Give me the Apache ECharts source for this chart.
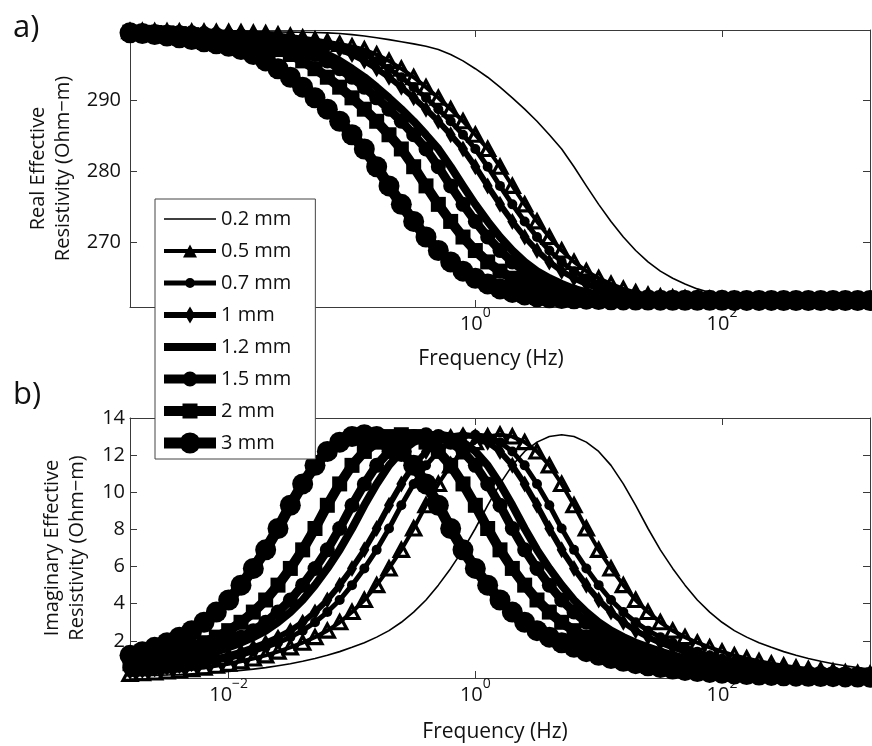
<!DOCTYPE html>
<html><head><meta charset="utf-8">
<script src="https://cdn.jsdelivr.net/npm/echarts@6/dist/echarts.min.js"></script>
<style>html,body{margin:0;padding:0;background:#fff}#c{width:872px;height:746px}</style>
</head><body><div id="c"></div>
<script>
// x values: log10 of frequency (Hz)
const logFreq = [-2.8,-2.7,-2.6,-2.5,-2.4,-2.3,-2.2,-2.1,-2.0,-1.9,-1.8,-1.7,-1.6,-1.5,-1.4,-1.3,-1.2,-1.1,-1.0,-0.9,
-0.8,-0.7,-0.6,-0.5,-0.4,-0.3,-0.2,-0.1,0.0,0.1,0.2,0.3,0.4,0.5,0.6,0.7,0.8,0.9,1.0,1.1,
1.2,1.3,1.4,1.5,1.6,1.7,1.8,1.9,2.0,2.1,2.2,2.3,2.4,2.5,2.6,2.7,2.8,2.9,3.0,3.1,3.2];

const sizes = ['0.2 mm','0.5 mm','0.7 mm','1 mm','1.2 mm','1.5 mm','2 mm','3 mm'];

const xTicks = [-2, 0, 2];
const realTicks = [270, 280, 290];
const imagTicks = [2, 4, 6, 8, 10, 12, 14];

// Real effective resistivity (Ohm-m)
const real02 = [299.88,299.87,299.86,299.85,299.83,299.81,299.79,299.77,299.75,299.73,
299.71,299.69,299.67,299.65,299.63,299.60,299.55,299.45,299.30,299.10,
298.85,298.60,298.30,298.00,297.65,297.20,296.50,295.60,294.50,293.30,
291.90,290.40,288.80,287.10,285.20,283.20,280.70,278.00,275.40,273.00,
270.80,268.90,267.30,266.00,265.00,264.20,263.50,263.00,262.65,262.40,
262.25,262.15,262.10,262.05,262.00,261.97,261.95,261.93,261.92,261.91,261.90];
const real05 = [299.79,299.77,299.75,299.73,
299.71,299.69,299.67,299.65,299.63,299.60,299.55,299.45,299.30,299.10,
298.85,298.60,298.30,298.00,297.65,297.20,296.50,295.60,294.50,293.30,
291.90,290.40,288.80,287.10,285.20,283.20,280.70,278.00,275.40,273.00,
270.80,268.90,267.30,266.00,265.00,264.20,263.50,263.00,262.65,262.40,
262.25,262.15,262.10,262.05,262.00,261.97,261.95,261.93,261.92,261.91,
261.90,261.90,261.89,261.89,261.89,261.88,261.88];
const real07 = [299.77,299.75,299.73,
299.71,299.69,299.67,299.65,299.63,299.60,299.55,299.45,299.30,299.10,
298.85,298.60,298.30,298.00,297.65,297.20,296.50,295.60,294.50,293.30,
291.90,290.40,288.80,287.10,285.20,283.20,280.70,278.00,275.40,273.00,
270.80,268.90,267.30,266.00,265.00,264.20,263.50,263.00,262.65,262.40,
262.25,262.15,262.10,262.05,262.00,261.97,261.95,261.93,261.92,261.91,
261.90,261.90,261.89,261.89,261.89,261.88,261.88,261.88];
const real10 = [299.75,299.73,
299.71,299.69,299.67,299.65,299.63,299.60,299.55,299.45,299.30,299.10,
298.85,298.60,298.30,298.00,297.65,297.20,296.50,295.60,294.50,293.30,
291.90,290.40,288.80,287.10,285.20,283.20,280.70,278.00,275.40,273.00,
270.80,268.90,267.30,266.00,265.00,264.20,263.50,263.00,262.65,262.40,
262.25,262.15,262.10,262.05,262.00,261.97,261.95,261.93,261.92,261.91,
261.90,261.90,261.89,261.89,261.89,261.88,261.88,261.88,261.88];
const real12 = [
299.71,299.69,299.67,299.65,299.63,299.60,299.55,299.45,299.30,299.10,
298.85,298.60,298.30,298.00,297.65,297.20,296.50,295.60,294.50,293.30,
291.90,290.40,288.80,287.10,285.20,283.20,280.70,278.00,275.40,273.00,
270.80,268.90,267.30,266.00,265.00,264.20,263.50,263.00,262.65,262.40,
262.25,262.15,262.10,262.05,262.00,261.97,261.95,261.93,261.92,261.91,
261.90,261.90,261.89,261.89,261.89,261.88,261.88,261.88,261.88,261.87,261.87];
const real15 = [
299.69,299.67,299.65,299.63,299.60,299.55,299.45,299.30,299.10,
298.85,298.60,298.30,298.00,297.65,297.20,296.50,295.60,294.50,293.30,
291.90,290.40,288.80,287.10,285.20,283.20,280.70,278.00,275.40,273.00,
270.80,268.90,267.30,266.00,265.00,264.20,263.50,263.00,262.65,262.40,
262.25,262.15,262.10,262.05,262.00,261.97,261.95,261.93,261.92,261.91,
261.90,261.90,261.89,261.89,261.89,261.88,261.88,261.88,261.88,261.87,261.87,261.87];
const real20 = [
299.65,299.63,299.60,299.55,299.45,299.30,299.10,
298.85,298.60,298.30,298.00,297.65,297.20,296.50,295.60,294.50,293.30,
291.90,290.40,288.80,287.10,285.20,283.20,280.70,278.00,275.40,273.00,
270.80,268.90,267.30,266.00,265.00,264.20,263.50,263.00,262.65,262.40,
262.25,262.15,262.10,262.05,262.00,261.97,261.95,261.93,261.92,261.91,
261.90,261.90,261.89,261.89,261.89,261.88,261.88,261.88,261.88,261.87,261.87,261.87,261.87,261.86];
const real30 = [
299.55,299.45,299.30,299.10,
298.85,298.60,298.30,298.00,297.65,297.20,296.50,295.60,294.50,293.30,
291.90,290.40,288.80,287.10,285.20,283.20,280.70,278.00,275.40,273.00,
270.80,268.90,267.30,266.00,265.00,264.20,263.50,263.00,262.65,262.40,
262.25,262.15,262.10,262.05,262.00,261.97,261.95,261.93,261.92,261.91,
261.90,261.90,261.89,261.89,261.89,261.88,261.88,261.88,261.88,261.87,261.87,261.87,261.87,261.86,261.86,261.86,261.86];

// Imaginary effective resistivity (Ohm-m)
const imag02 = [0.10,0.12,0.14,0.16,0.19,0.22,0.26,0.30,0.35,0.41,
0.48,0.56,0.66,0.77,0.90,1.05,1.22,1.42,1.65,1.90,
2.20,2.55,3.00,3.55,4.20,5.00,5.90,6.90,8.05,9.30,
10.45,11.45,12.20,12.70,13.00,13.10,
13.00,12.70,12.20,11.45,10.45,9.30,8.05,6.90,5.90,5.00,
4.20,3.55,3.00,2.55,2.20,1.90,1.65,1.42,1.22,1.05,
0.90,0.77,0.66,0.56,0.48];
const imag05 = [0.22,0.26,0.30,0.35,0.41,0.48,0.56,0.66,0.77,0.90,
1.05,1.22,1.42,1.65,1.90,2.20,2.55,3.00,3.55,4.20,
5.00,5.90,6.90,8.05,9.30,10.45,11.45,12.20,12.70,13.00,13.10,
13.00,12.70,12.20,11.45,10.45,9.30,8.05,6.90,5.90,5.00,
4.20,3.55,3.00,2.55,2.20,1.90,1.65,1.42,1.22,1.05,
0.90,0.77,0.66,0.56,0.48,0.41,0.35,0.30,0.26,0.22];
const imag07 = [0.30,0.35,0.41,0.48,0.56,0.66,0.77,0.90,1.05,
1.22,1.42,1.65,1.90,2.20,2.55,3.00,3.55,4.20,5.00,
5.90,6.90,8.05,9.30,10.45,11.45,12.20,12.70,13.00,13.10,
13.00,12.70,12.20,11.45,10.45,9.30,8.05,6.90,5.90,5.00,
4.20,3.55,3.00,2.55,2.20,1.90,1.65,1.42,1.22,1.05,
0.90,0.77,0.66,0.56,0.48,0.41,0.35,0.30,0.26,0.22,
0.19,0.16];
const imag10 = [0.35,0.41,0.48,0.56,0.66,0.77,0.90,1.05,
1.22,1.42,1.65,1.90,2.20,2.55,3.00,3.55,4.20,5.00,
5.90,6.90,8.05,9.30,10.45,11.45,12.20,12.70,13.00,13.10,
13.00,12.70,12.20,11.45,10.45,9.30,8.05,6.90,5.90,5.00,
4.20,3.55,3.00,2.55,2.20,1.90,1.65,1.42,1.22,1.05,
0.90,0.77,0.66,0.56,0.48,0.41,0.35,0.30,0.26,0.22,
0.19,0.16,0.14];
const imag12 = [0.48,0.56,0.66,0.77,0.90,1.05,
1.22,1.42,1.65,1.90,2.20,2.55,3.00,3.55,4.20,5.00,
5.90,6.90,8.05,9.30,10.45,11.45,12.20,12.70,13.00,13.10,
13.00,12.70,12.20,11.45,10.45,9.30,8.05,6.90,5.90,5.00,
4.20,3.55,3.00,2.55,2.20,1.90,1.65,1.42,1.22,1.05,
0.90,0.77,0.66,0.56,0.48,0.41,0.35,0.30,0.26,0.22,
0.19,0.16,0.14,0.12,0.10];
const imag15 = [0.56,0.66,0.77,0.90,1.05,
1.22,1.42,1.65,1.90,2.20,2.55,3.00,3.55,4.20,5.00,
5.90,6.90,8.05,9.30,10.45,11.45,12.20,12.70,13.00,13.10,
13.00,12.70,12.20,11.45,10.45,9.30,8.05,6.90,5.90,5.00,
4.20,3.55,3.00,2.55,2.20,1.90,1.65,1.42,1.22,1.05,
0.90,0.77,0.66,0.56,0.48,0.41,0.35,0.30,0.26,0.22,
0.19,0.16,0.14,0.12,0.10,0.09];
const imag20 = [0.77,0.90,1.05,
1.22,1.42,1.65,1.90,2.20,2.55,3.00,3.55,4.20,5.00,
5.90,6.90,8.05,9.30,10.45,11.45,12.20,12.70,13.00,13.10,
13.00,12.70,12.20,11.45,10.45,9.30,8.05,6.90,5.90,5.00,
4.20,3.55,3.00,2.55,2.20,1.90,1.65,1.42,1.22,1.05,
0.90,0.77,0.66,0.56,0.48,0.41,0.35,0.30,0.26,0.22,
0.19,0.16,0.14,0.12,0.10,0.09,0.08,0.07];
const imag30 = [
1.22,1.42,1.65,1.90,2.20,2.55,3.00,3.55,4.20,5.00,
5.90,6.90,8.05,9.30,10.45,11.45,12.20,12.70,13.00,13.10,
13.00,12.70,12.20,11.45,10.45,9.30,8.05,6.90,5.90,5.00,
4.20,3.55,3.00,2.55,2.20,1.90,1.65,1.42,1.22,1.05,
0.90,0.77,0.66,0.56,0.48,0.41,0.35,0.30,0.26,0.22,
0.19,0.16,0.14,0.12,0.10,0.09,0.08,0.07,0.06,0.05,0.045];

const realData = [real02, real05, real07, real10, real12, real15, real20, real30];
const imagData = [imag02, imag05, imag07, imag10, imag12, imag15, imag20, imag30];
realData.concat(imagData).forEach((a, i) => { if (a.length !== logFreq.length) throw new Error('length mismatch ' + i + ': ' + a.length); });

// ---- styles ----
const FONT = '"Open Sans", "Liberation Sans", sans-serif';
const AX = '#3a3a3a';
const TXT = '#111';
const styles = [
  { symbol: 'none',     size: 0,       lw: 1.6 },
  { symbol: 'triangle', size: [14,13], lw: 4, hollow: true },
  { symbol: 'circle',   size: 10,      lw: 5 },
  { symbol: 'diamond',  size: [10,17], lw: 6 },
  { symbol: 'none',     size: 0,       lw: 8 },
  { symbol: 'circle',   size: 15,      lw: 9 },
  { symbol: 'rect',     size: 15,      lw: 10 },
  { symbol: 'circle',   size: 21,      lw: 11 }
];
const frame = 'M0,0L0.01,0Z M52,22L51.99,22Z ';
const bar = h => `M0,${11 - h/2}L52,${11 - h/2}L52,${11 + h/2}L0,${11 + h/2}Z `;
const circ = r => `M${26 - r},11A${r},${r} 0 1 1 ${26 + r},11A${r},${r} 0 1 1 ${26 - r},11Z `;
const legendIcons = [
  frame + bar(1.6),
  frame + bar(4) + 'M26,4.5L33,17.5L19,17.5Z',
  frame + bar(5) + circ(5),
  frame + bar(6) + 'M26,2.5L31,11L26,19.5L21,11Z',
  frame + bar(8),
  frame + bar(9) + circ(7.5),
  frame + bar(10) + 'M18.5,3.5L33.5,3.5L33.5,18.5L18.5,18.5Z',
  frame + bar(11) + circ(10.5)
];

const pairs = ys => logFreq.map((x, i) => [x, ys[i]]);

const xLabel = {
  show: true, customValues: xTicks, margin: 7,
  formatter: v => '{b|10}{s|' + (v < 0 ? '\u2212' : '') + Math.abs(v) + '}',
  rich: {
    b: { fontSize: 20, lineHeight: 20, fontFamily: FONT, color: TXT, verticalAlign: 'bottom' },
    s: { fontSize: 14, lineHeight: 14, fontFamily: FONT, color: TXT, verticalAlign: 'bottom', padding: [0, 0, 14, 0] }
  }
};
function xAxis(grid, pos, withLabels, nameGap, padR) {
  const a = {
    gridIndex: grid, type: 'value', min: -2.8, max: 3.2, position: pos,
    axisLine: { show: true, onZero: false, lineStyle: { color: AX, width: 1 } },
    axisTick: { show: true, inside: true, length: 7, customValues: xTicks, lineStyle: { color: AX } },
    axisLabel: withLabels ? xLabel : { show: false },
    splitLine: { show: false }
  };
  if (withLabels) {
    a.name = 'Frequency (Hz)'; a.nameLocation = 'middle'; a.nameGap = nameGap;
    a.nameTextStyle = { fontSize: 21, fontFamily: FONT, color: TXT, padding: [0, padR, 0, 0] };
  }
  return a;
}
function yAxis(grid, pos, min, max, ticks, labelTicks, name, nameGap, margin) {
  const a = {
    gridIndex: grid, type: 'value', min: min, max: max, position: pos,
    axisLine: { show: true, onZero: false, lineStyle: { color: AX, width: 1 } },
    axisTick: { show: true, inside: true, length: 7, customValues: ticks, lineStyle: { color: AX } },
    axisLabel: labelTicks ? { show: true, customValues: labelTicks, margin: margin, fontSize: 20, fontFamily: FONT, color: TXT } : { show: false },
    splitLine: { show: false }
  };
  if (name) {
    a.name = name; a.nameLocation = 'middle'; a.nameGap = nameGap;
    a.nameTextStyle = { fontSize: 20, lineHeight: 25, fontFamily: FONT, color: TXT };
  }
  return a;
}

const series = [];
sizes.forEach((nm, i) => {
  const st = styles[i];
  const base = {
    type: 'line', name: nm,
    symbol: st.symbol, symbolSize: st.size, showSymbol: st.symbol !== 'none',
    lineStyle: { color: '#000', width: st.lw, join: 'round', cap: 'round' },
    itemStyle: st.hollow ? { color: 'rgba(0,0,0,0)', borderColor: '#000', borderWidth: 3.2 } : { color: '#000', borderWidth: 0 },
    animation: false, silent: true, clip: false
  };
  series.push(Object.assign({}, base, { xAxisIndex: 0, yAxisIndex: 0, data: pairs(realData[i]) }));
  series.push(Object.assign({}, base, { xAxisIndex: 2, yAxisIndex: 2, data: pairs(imagData[i]) }));
});

const option = {
  backgroundColor: '#fff',
  animation: false,
  title: [
    { text: 'a)', left: 8, top: 8, padding: 5, textStyle: { fontSize: 31, fontWeight: 'normal', fontFamily: FONT, color: TXT } },
    { text: 'b)', left: 8, top: 375, padding: 5, textStyle: { fontSize: 31, fontWeight: 'normal', fontFamily: FONT, color: TXT } }
  ],
  grid: [
    { left: 130, top: 30, width: 740, height: 277 },
    { left: 130, top: 418, width: 740, height: 260 }
  ],
  xAxis: [
    xAxis(0, 'bottom', true, 42, 18),
    xAxis(0, 'top', false),
    xAxis(1, 'bottom', true, 44, 10),
    xAxis(1, 'top', false)
  ],
  yAxis: [
    yAxis(0, 'left', 260.95, 299.95, realTicks, realTicks, 'Real Effective\nResistivity (Ohm\u2212m)', 53, 9),
    yAxis(0, 'right', 260.95, 299.95, realTicks, null),
    yAxis(1, 'left', 0, 14, imagTicks, imagTicks, 'Imaginary Effective\nResistivity (Ohm\u2212m)', 40, 5),
    yAxis(1, 'right', 0, 14, imagTicks, null)
  ],
  legend: {
    data: sizes.map((n, i) => ({ name: n, icon: 'path://' + legendIcons[i], itemStyle: { color: '#000', borderWidth: 0, opacity: 1 } })),
    orient: 'vertical', left: 155, top: 199,
    padding: [9, 24, 5, 9], itemGap: 10, itemWidth: 52, itemHeight: 22,
    backgroundColor: '#fff', borderColor: '#444', borderWidth: 1, borderRadius: 0,
    selectedMode: false, z: 10,
    textStyle: { fontSize: 20, lineHeight: 22, fontFamily: FONT, color: TXT }
  },
  series: series
};

const chart = echarts.init(document.getElementById('c'), null, { renderer: 'canvas' });
chart.setOption(option);
</script>
</body></html>
